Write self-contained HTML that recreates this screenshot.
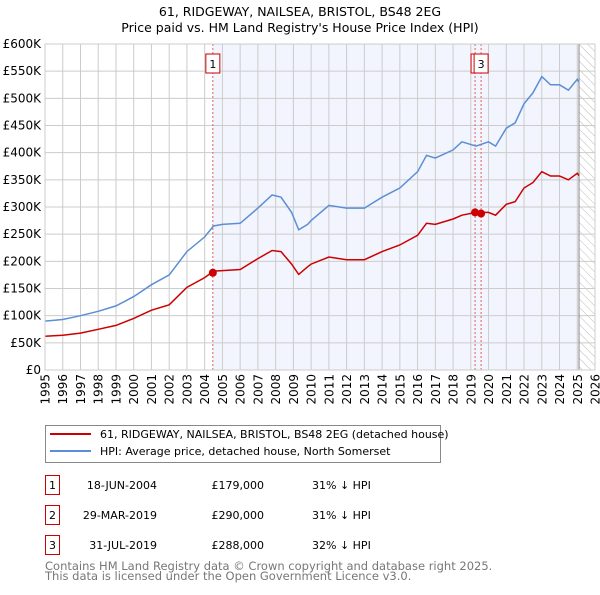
<!DOCTYPE html>
<html><head><meta charset="utf-8"><style>
body{margin:0;background:#fff;font-family:"Liberation Sans","DejaVu Sans",sans-serif;}
svg text{font-family:"DejaVu Sans","Liberation Sans",sans-serif;}
</style></head><body>
<svg id="c" width="600" height="590" xmlns="http://www.w3.org/2000/svg">
<defs><pattern id="hatch" width="6" height="6" patternUnits="userSpaceOnUse" patternTransform="rotate(-45)"><line x1="0" y1="0" x2="0" y2="6" stroke="#bbb" stroke-width="1"/></pattern></defs>
<text x="300" y="16" text-anchor="middle" font-size="12.5">61, RIDGEWAY, NAILSEA, BRISTOL, BS48 2EG</text>
<text x="300" y="32" text-anchor="middle" font-size="12.5">Price paid vs. HM Land Registry's House Price Index (HPI)</text>
<g id="plot"></g>
<g>
<rect x="45.5" y="425.5" width="395" height="37" fill="#fff" stroke="#888"/>
<line x1="50" y1="434" x2="91" y2="434" stroke="#cc0000" stroke-width="2"/>
<text x="100" y="438" font-size="11">61, RIDGEWAY, NAILSEA, BRISTOL, BS48 2EG (detached house)</text>
<line x1="50" y1="451" x2="91" y2="451" stroke="#5b8ed6" stroke-width="2"/>
<text x="100" y="455" font-size="11">HPI: Average price, detached house, North Somerset</text>
</g>
<g id="table" font-size="11"></g>
<text x="45" y="570" font-size="11.5" fill="#777">Contains HM Land Registry data © Crown copyright and database right 2025.</text>
<text x="45" y="580" font-size="11.5" fill="#777">This data is licensed under the Open Government Licence v3.0.</text>
</svg>
<script>
const hpiYears=[1995,1996,1997,1998,1999,2000,2001,2002,2003,2004,2004.5,2005,2006,2007,2007.8,2008.3,2008.9,2009.3,2009.8,2010,2011,2012,2013,2014,2015,2016,2016.5,2017,2018,2018.5,2019.3,2020,2020.4,2021,2021.5,2022,2022.5,2023,2023.5,2024,2024.5,2025,2025.1];
const hpiValues=[90,93,100,108,118,135,157,175,218,245,265,268,270,298,322,318,290,258,268,275,303,298,298,318,335,365,395,390,405,420,412,420,412,445,455,490,510,540,525,525,515,535,530];
const priceYears=hpiYears;
const priceValues=[62,64,68,75,82,95,110,120,152,170,182,183,185,205,220,218,195,176,190,195,208,203,203,218,230,248,270,268,278,285,290,290,285,305,310,335,345,365,357,357,350,362,358];
const saleLabels=["1","2","3"];
const saleYears=[2004.46,2019.24,2019.58];
const saleValues=[179,290,288];
const saleDates=["18-JUN-2004","29-MAR-2019","31-JUL-2019"];
const salePrices=["£179,000","£290,000","£288,000"];
const saleDiffs=["31% ↓ HPI","31% ↓ HPI","32% ↓ HPI"];
const yTicks=[0,50,100,150,200,250,300,350,400,450,500,550,600];
const yTickLabels=["£0","£50K","£100K","£150K","£200K","£250K","£300K","£350K","£400K","£450K","£500K","£550K","£600K"];
const xTicks=[1995,1996,1997,1998,1999,2000,2001,2002,2003,2004,2005,2006,2007,2008,2009,2010,2011,2012,2013,2014,2015,2016,2017,2018,2019,2020,2021,2022,2023,2024,2025,2026];

const X0=45,X1=595,Y0=370,Y1=44;
const xs=y=>X0+(y-1995)/(2026-1995)*(X1-X0);
const ys=v=>Y0-v/600*(Y0-Y1);
const NS="http://www.w3.org/2000/svg";
function mk(tag,attrs,parent,text){const e=document.createElementNS(NS,tag);for(const k in attrs)e.setAttribute(k,attrs[k]);if(text!==undefined)e.textContent=text;parent.appendChild(e);return e;}
const p=document.getElementById('plot');
const bg=mk('rect',{x:X0,y:Y1,width:X1-X0,height:Y0-Y1,fill:'#fff'},p);


const sh=mk('rect',{x:xs(saleYears[0]),y:Y1,width:xs(2025.1)-xs(saleYears[0]),height:Y0-Y1,fill:'#f2f5fd'},p);


const ht=mk('rect',{x:xs(2025.1),y:Y1,width:X1-xs(2025.1),height:Y0-Y1,fill:'url(#hatch)'},p);


yTicks.forEach((t,i)=>{
 const l=mk('line',{x1:X0,x2:X1,y1:ys(t),y2:ys(t),stroke:'#ccc'},p);
 
 
 const tx=mk('text',{x:X0-4,y:ys(t)+4,'text-anchor':'end','font-size':12},p,yTickLabels[i]);
 
 
});
xTicks.forEach(t=>{
 const l=mk('line',{x1:xs(t),x2:xs(t),y1:Y1,y2:Y0,stroke:'#ccc'},p);
 
 
 const tx=mk('text',{x:0,y:0,'text-anchor':'end','font-size':12,transform:`translate(${xs(t)+4.5},${Y0+4}) rotate(-90)`},p,String(t));
 
 
});
const el=mk('line',{x1:xs(2025.1),x2:xs(2025.1),y1:Y1,y2:Y0,stroke:'#888'},p);


saleYears.forEach((s,i)=>{
 const l=mk('line',{x1:xs(s),x2:xs(s),y1:Y1,y2:Y0,stroke:'#e06060','stroke-dasharray':'2,2'},p);
 
 
});
function path(xa,va,col,name){
 const d=xa.map((y,i)=>(i?'L':'M')+xs(y).toFixed(1)+','+ys(va[i]).toFixed(1)).join('');
 const e=mk('path',{d:d,fill:'none',stroke:col,'stroke-width':1.5},p);
 
 
}
path(hpiYears,hpiValues,'#5b8ed6','hpi-line');
path(priceYears,priceValues,'#cc0000','property-line');
saleYears.forEach((s,i)=>{
 const c=mk('circle',{cx:xs(s),cy:ys(saleValues[i]),r:4,fill:'#cc0000'},p);
 
 
});
saleYears.forEach((s,i)=>{
 const g=mk('g',{},p);
 
 
 const bx=i===0?xs(s)-7:(i===1?xs(s)-4:xs(s)-7);
 mk('rect',{x:bx,y:54,width:14,height:19,fill:'#fff',stroke:'#cc0000'},g);
 mk('text',{x:bx+7,y:68,'text-anchor':'middle','font-size':11},g,saleLabels[i]);
});
mk('rect',{x:X0,y:Y1,width:X1-X0,height:Y0-Y1,fill:'none',stroke:'#ccc'},p);
const tb=document.getElementById('table');
saleLabels.forEach((lab,i)=>{
 const y=486+i*30;
 const g=mk('g',{},tb);
 
 
 mk('rect',{x:45.5,y:y-10.5,width:14,height:19,fill:'#fff',stroke:'#cc0000'},g);
 mk('text',{x:52.5,y:y+3,'text-anchor':'middle'},g,lab);
 mk('text',{x:157,y:y+3,'text-anchor':'end'},g,saleDates[i]);
 mk('text',{x:264,y:y+3,'text-anchor':'end'},g,salePrices[i]);
 mk('text',{x:312,y:y+3},g,saleDiffs[i]);
});
</script>
</body></html>
